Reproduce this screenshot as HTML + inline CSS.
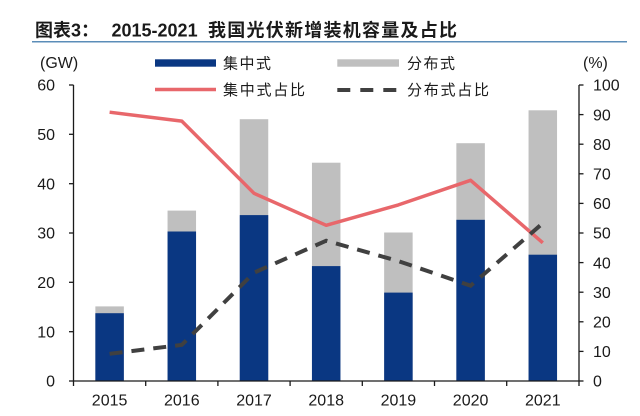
<!DOCTYPE html>
<html>
<head>
<meta charset="utf-8">
<style>
  html,body{margin:0;padding:0;background:#fff;}
  svg{display:block;}
  text{font-family:"Liberation Sans","Noto Sans CJK SC",sans-serif;fill:#1a1a1a;}
</style>
</head>
<body>
<svg width="640" height="416" viewBox="0 0 640 416" xmlns="http://www.w3.org/2000/svg">
  <!-- Title -->
  <text x="35" y="36.5" font-size="18" font-weight="bold">图表3：</text>
  <text x="111.5" y="36.5" font-size="18" font-weight="bold">2015-2021</text>
  <text x="208" y="36.5" font-size="18" font-weight="bold" textLength="249" lengthAdjust="spacing">我国光伏新增装机容量及占比</text>
  <line x1="32" y1="41.7" x2="627" y2="41.7" stroke="#5b8db8" stroke-width="1.5"/>

  <!-- Unit labels -->
  <text x="40" y="68" font-size="16">(GW)</text>
  <text x="583" y="68" font-size="16">(%)</text>

  <!-- Legend -->
  <rect x="155" y="59.3" width="61" height="7.4" fill="#0a3782"/>
  <text x="223" y="68.7" font-size="15" fill="#333" textLength="48" lengthAdjust="spacing">集中式</text>
  <rect x="337.3" y="59.3" width="61.7" height="7.4" fill="#bfbfbf"/>
  <text x="407" y="68.7" font-size="15" fill="#333" textLength="48" lengthAdjust="spacing">分布式</text>
  <line x1="155" y1="89.5" x2="216" y2="89.5" stroke="#e8676b" stroke-width="3.5"/>
  <text x="223" y="95" font-size="15" fill="#333" textLength="82" lengthAdjust="spacing">集中式占比</text>
  <line x1="337.3" y1="90" x2="399" y2="90" stroke="#404040" stroke-width="4" stroke-dasharray="13,10"/>
  <text x="407" y="95" font-size="15" fill="#333" textLength="82" lengthAdjust="spacing">分布式占比</text>

  <!-- Bars: gray (total) then blue -->
  <g fill="#bfbfbf">
    <rect x="95.35" y="306.4" width="28.5" height="74.6"/>
    <rect x="167.55" y="210.6" width="28.5" height="170.4"/>
    <rect x="239.75" y="119.2" width="28.5" height="261.8"/>
    <rect x="311.95" y="162.7" width="28.5" height="218.3"/>
    <rect x="384.15" y="232.5" width="28.5" height="148.5"/>
    <rect x="456.35" y="143.2" width="28.5" height="237.8"/>
    <rect x="528.55" y="110.3" width="28.5" height="270.7"/>
  </g>
  <g fill="#0a3782">
    <rect x="95.35" y="313.2" width="28.5" height="67.8"/>
    <rect x="167.55" y="231.5" width="28.5" height="149.5"/>
    <rect x="239.75" y="215.1" width="28.5" height="165.9"/>
    <rect x="311.95" y="266.1" width="28.5" height="114.9"/>
    <rect x="384.15" y="292.6" width="28.5" height="88.4"/>
    <rect x="456.35" y="219.8" width="28.5" height="161.2"/>
    <rect x="528.55" y="254.7" width="28.5" height="126.3"/>
  </g>

  <!-- Lines -->
  <polyline fill="none" stroke="#e8676b" stroke-width="3.5" stroke-linejoin="round"
    points="109.6,112.2 181.8,121.1 254,193.3 326.2,225.3 398.4,204.9 470.6,180.3 542.8,242.8"/>
  <polyline fill="none" stroke="#404040" stroke-width="4" stroke-dasharray="13,9"
    points="109.6,353.8 181.8,344.9 254,272.7 326.2,240.7 398.4,261.1 470.6,285.7 542.8,223.2"/>

  <!-- Axes -->
  <g stroke="#1a1a1a" stroke-width="1.3" fill="none">
    <line x1="73.5" y1="85" x2="73.5" y2="381"/>
    <line x1="579" y1="85" x2="579" y2="381"/>
    <line x1="73.5" y1="381" x2="579" y2="381"/>
    <!-- left ticks -->
    <line x1="69" y1="85" x2="73.5" y2="85"/>
    <line x1="69" y1="134.3" x2="73.5" y2="134.3"/>
    <line x1="69" y1="183.7" x2="73.5" y2="183.7"/>
    <line x1="69" y1="233" x2="73.5" y2="233"/>
    <line x1="69" y1="282.3" x2="73.5" y2="282.3"/>
    <line x1="69" y1="331.7" x2="73.5" y2="331.7"/>
    <line x1="69" y1="381" x2="73.5" y2="381"/>
    <!-- right ticks -->
    <line x1="579" y1="85" x2="583.5" y2="85"/>
    <line x1="579" y1="114.6" x2="583.5" y2="114.6"/>
    <line x1="579" y1="144.2" x2="583.5" y2="144.2"/>
    <line x1="579" y1="173.8" x2="583.5" y2="173.8"/>
    <line x1="579" y1="203.4" x2="583.5" y2="203.4"/>
    <line x1="579" y1="233" x2="583.5" y2="233"/>
    <line x1="579" y1="262.6" x2="583.5" y2="262.6"/>
    <line x1="579" y1="292.2" x2="583.5" y2="292.2"/>
    <line x1="579" y1="321.8" x2="583.5" y2="321.8"/>
    <line x1="579" y1="351.4" x2="583.5" y2="351.4"/>
    <line x1="579" y1="381" x2="583.5" y2="381"/>
    <!-- bottom ticks -->
    <line x1="73.5" y1="381" x2="73.5" y2="386"/>
    <line x1="145.7" y1="381" x2="145.7" y2="386"/>
    <line x1="217.9" y1="381" x2="217.9" y2="386"/>
    <line x1="290.1" y1="381" x2="290.1" y2="386"/>
    <line x1="362.3" y1="381" x2="362.3" y2="386"/>
    <line x1="434.5" y1="381" x2="434.5" y2="386"/>
    <line x1="506.7" y1="381" x2="506.7" y2="386"/>
    <line x1="579" y1="381" x2="579" y2="386"/>
  </g>

  <!-- Left axis labels -->
  <g font-size="16" text-anchor="end">
    <text x="55" y="90.7">60</text>
    <text x="55" y="140">50</text>
    <text x="55" y="189.4">40</text>
    <text x="55" y="238.7">30</text>
    <text x="55" y="288">20</text>
    <text x="55" y="337.4">10</text>
    <text x="55" y="386.7">0</text>
  </g>
  <!-- Right axis labels -->
  <g font-size="16">
    <text x="593" y="90.7">100</text>
    <text x="593" y="120.3">90</text>
    <text x="593" y="149.9">80</text>
    <text x="593" y="179.5">70</text>
    <text x="593" y="209.1">60</text>
    <text x="593" y="238.7">50</text>
    <text x="593" y="268.3">40</text>
    <text x="593" y="297.9">30</text>
    <text x="593" y="327.5">20</text>
    <text x="593" y="357.1">10</text>
    <text x="593" y="386.7">0</text>
  </g>
  <!-- X labels -->
  <g font-size="16" text-anchor="middle">
    <text x="109.6" y="405.7">2015</text>
    <text x="181.8" y="405.7">2016</text>
    <text x="254" y="405.7">2017</text>
    <text x="326.2" y="405.7">2018</text>
    <text x="398.4" y="405.7">2019</text>
    <text x="470.6" y="405.7">2020</text>
    <text x="542.8" y="405.7">2021</text>
  </g>
</svg>
</body>
</html>
